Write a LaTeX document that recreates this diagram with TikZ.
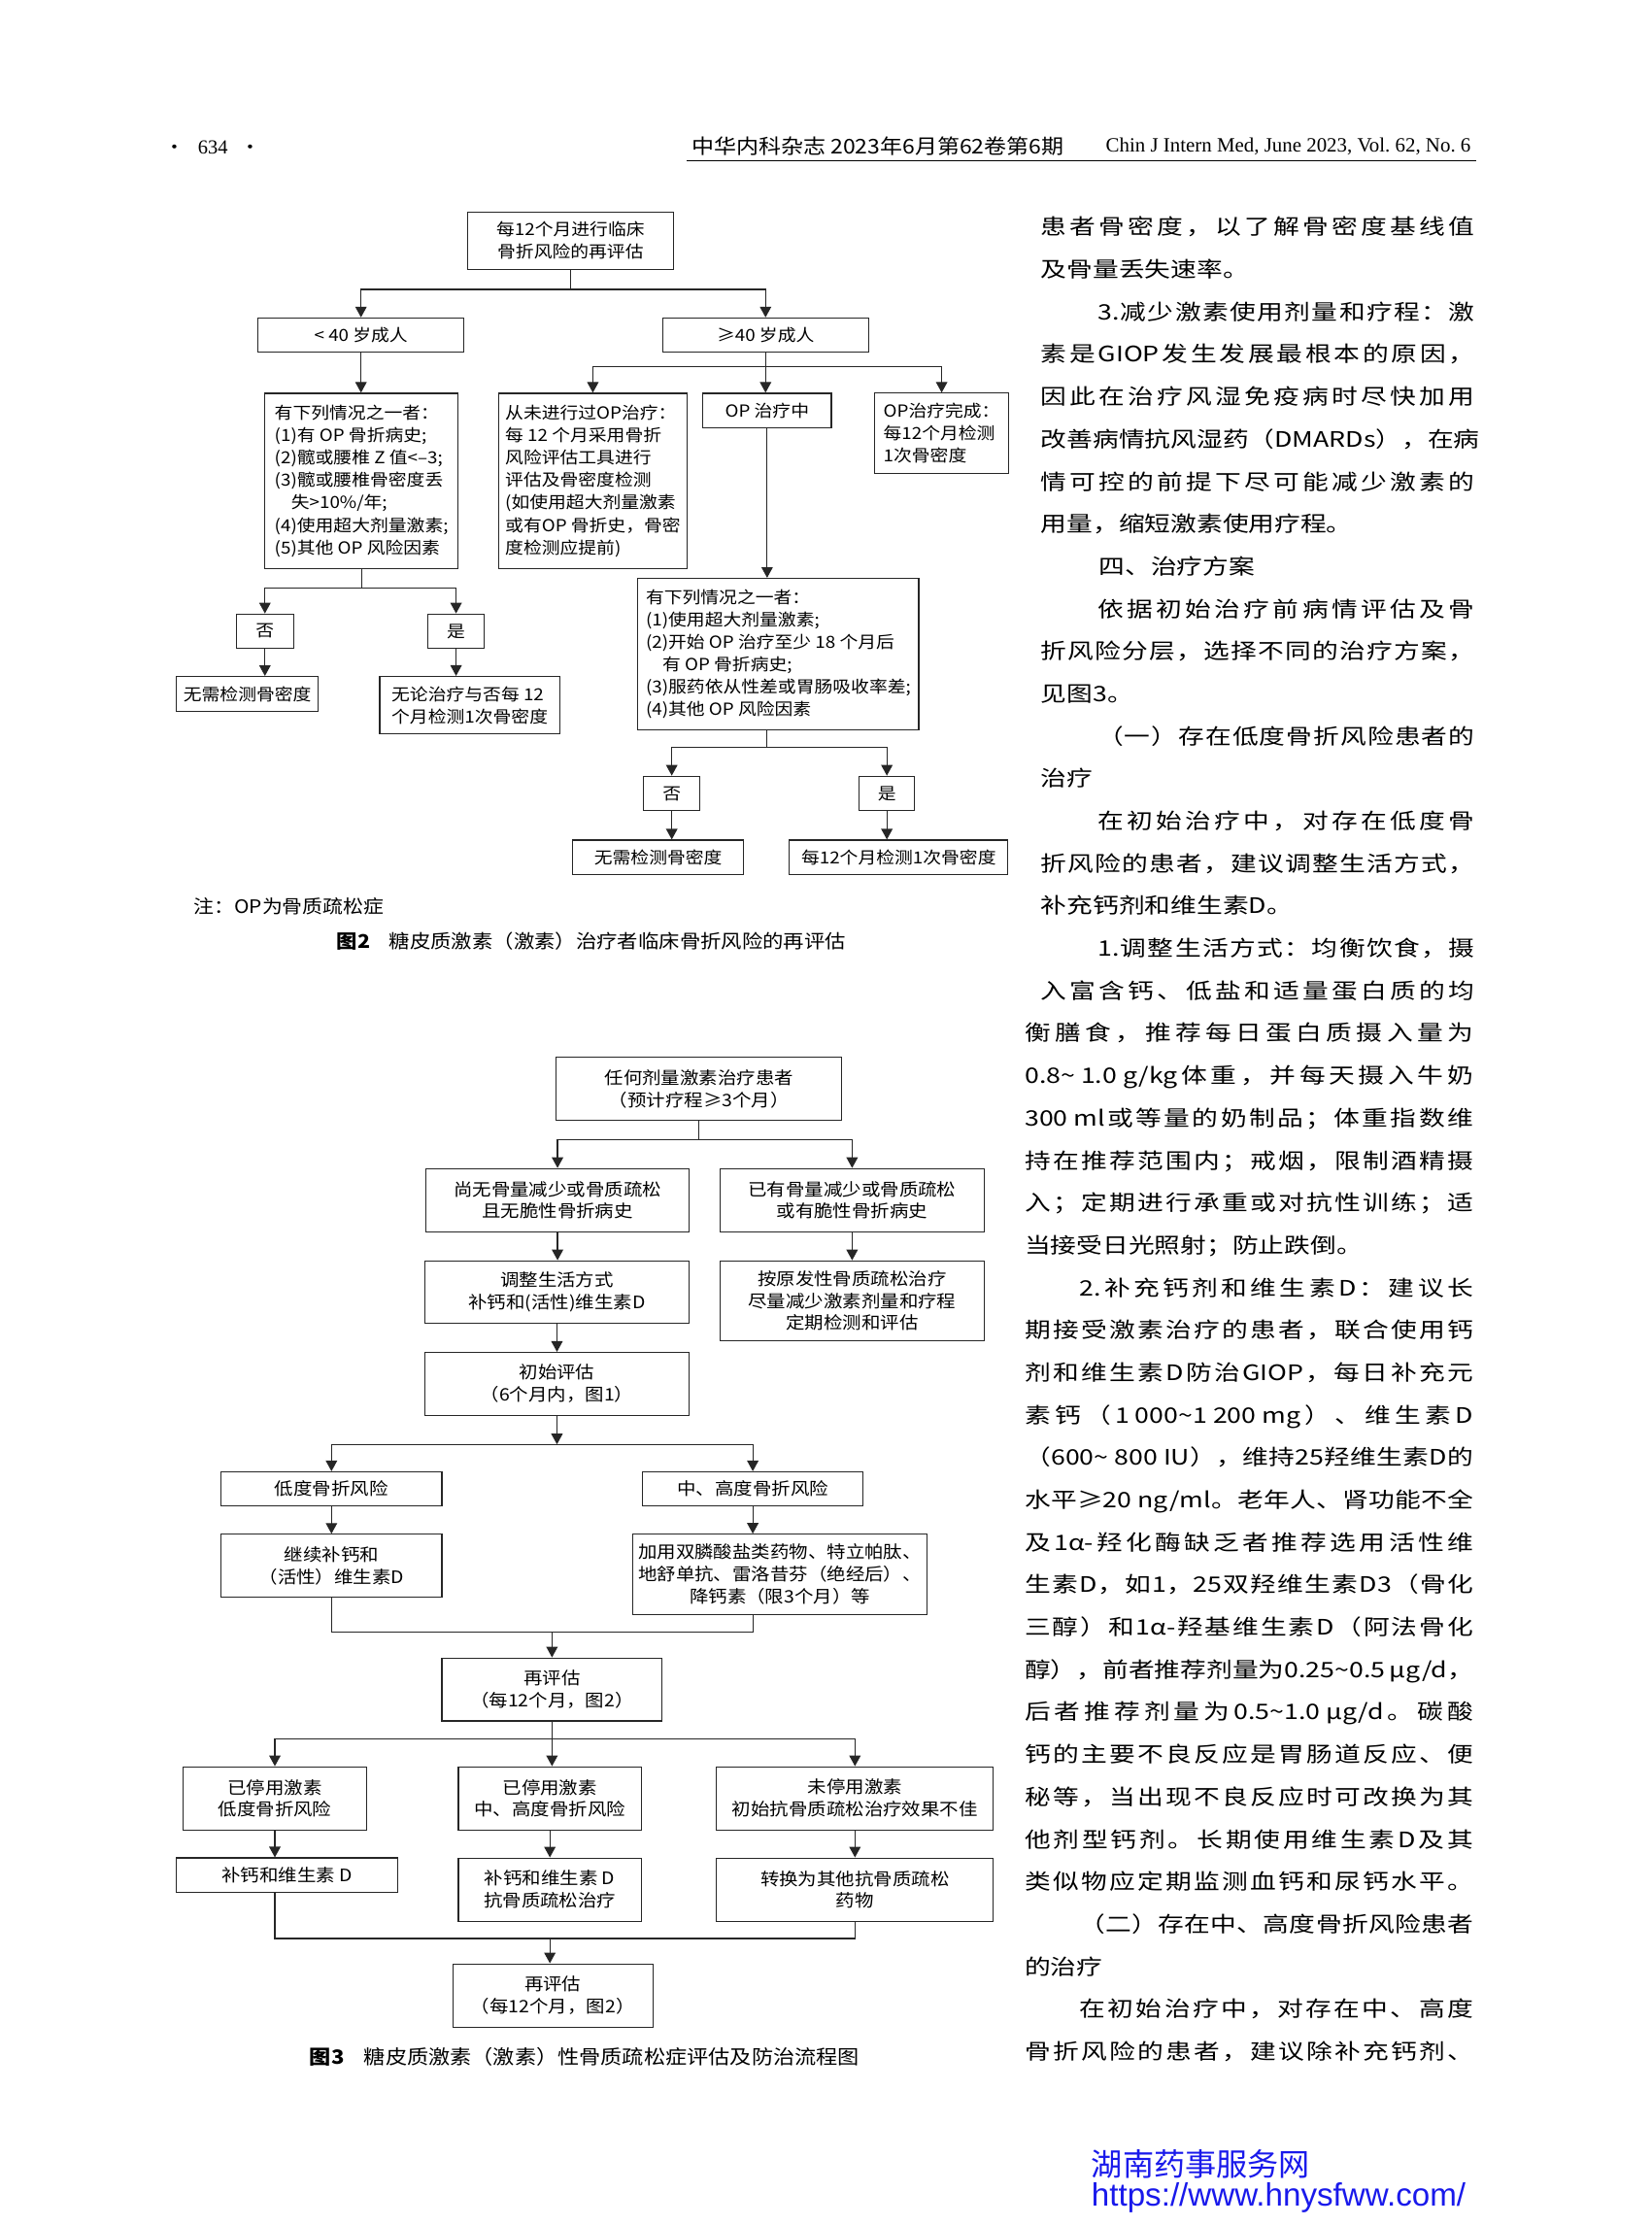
\documentclass[tikz,border=0pt]{standalone}
\usepackage{fontspec}
\setmainfont{Noto Sans CJK SC}[FakeStretch=1.1]
\newfontfamily\bodyfont{Noto Sans CJK SC}[FakeStretch=1.22]
\newfontfamily\wmfont{Noto Sans CJK SC}
\newfontfamily\headlat{Liberation Serif}
\newfontfamily\urlfont{Liberation Sans}
\usepackage{tikz}
\usetikzlibrary{arrows.meta,positioning,calc}

\definecolor{wmblue}{RGB}{25,25,235}

% spread the characters of one text line over a given width
\def\jfirst#1{#1\jrest}
\def\jrest#1{\ifx\relax#1\else\hfil#1\expandafter\jrest\fi}
\newcommand\jline[2]{\hbox to #1pt{\jfirst#2\relax}}
% body lines: number, left x, width, text
\newcommand\bodyj[4]{\node[bodytxt] (b#1) at (#2,{159.8+29.9*(#1-1)}) {\jline{#3}{#4}};}
\newcommand\bodys[3]{\node[bodytxt] (b#1) at (#2,{159.8+29.9*(#1-1)}) {#3};}

\begin{document}
\begin{tikzpicture}[x=1pt,y=-1pt,
  >={Triangle[length=7.5pt,width=8pt]},
  box2/.style={draw=black!85,line width=0.8pt,inner sep=0pt,align=center,
    font=\fontsize{11.7}{15.8}\selectfont},
  box3/.style={draw=black!85,line width=0.8pt,inner sep=0pt,align=center,
    font=\fontsize{12.1}{15.6}\selectfont},
  arr/.style={->,line width=0.8pt,draw=black!85},
  ln/.style={line width=0.8pt,draw=black!85},
  bodytxt/.style={anchor=west,inner sep=0pt,text height=11.5pt,text depth=0pt,
    font=\bodyfont\fontsize{15}{18}\selectfont}]
  \fill[white] (0,0) rectangle (1164,1568);
  \useasboundingbox (0,0) rectangle (1164,1568);

  % page head
  \node[font=\fontsize{13}{15}\selectfont] (pg) at (150,104) {·\hspace{9pt}{\headlat\fontsize{14}{15}\selectfont 634}\hspace{9pt}·};
  \node[anchor=west,font=\fontsize{14.3}{15}\selectfont] (hd1) at (484,103) {中华内科杂志 2023年6月第62卷第6期};
  \node[anchor=east,font=\headlat\fontsize{14.3}{15}\selectfont] (hd2) at (1040,103) {Chin J Intern Med, June 2023, Vol.\ 62, No.\ 6};
  \draw[line width=0.9pt] (484,113.5) -- (1040,113.5);

  % ---------- figure 2 ----------
  \node[box2,minimum width=145.2pt,minimum height=40.4pt] (f2top) at (402,169.6) {每12个月进行临床\\骨折风险的再评估};
  \node[box2,minimum width=145.2pt,minimum height=23.9pt] (lt40) at (254.4,236) {< 40 岁成人};
  \node[box2,minimum width=145pt,minimum height=23.9pt] (ge40) at (539.5,236) {≥40 岁成人};
  \node[box2,align=left,minimum width=136.4pt,minimum height=123.7pt] (c1) at (254.7,339) {有下列情况之一者：\\(1)有 OP 骨折病史;\\(2)髋或腰椎 Z 值<–3;\\(3)髋或腰椎骨密度丢\\\hspace*{1em}失>10\%/年;\\(4)使用超大剂量激素;\\(5)其他 OP 风险因素};
  \node[box2,align=left,minimum width=132.7pt,minimum height=123.7pt] (c2) at (417.8,339) {从未进行过OP治疗：\\每 12 个月采用骨折\\风险评估工具进行\\评估及骨密度检测\\(如使用超大剂量激素\\或有OP 骨折史，骨密\\度检测应提前)};
  \node[box2,minimum width=90.4pt,minimum height=24.5pt] (c3) at (540.6,289.4) {OP 治疗中};
  \node[box2,align=left,minimum width=94.3pt,minimum height=56.6pt] (c4) at (663.6,305.4) {OP治疗完成：\\每12个月检测\\1次骨密度};
  \node[box2,minimum width=40.1pt,minimum height=24.2pt] (n1) at (186.7,444.8) {否};
  \node[box2,minimum width=40pt,minimum height=24.2pt] (y1) at (321.4,444.8) {是};
  \node[box2,minimum width=100.2pt,minimum height=24.5pt] (r1) at (174.3,489) {无需检测骨密度};
  \node[box2,align=left,minimum width=126.8pt,minimum height=40.6pt] (r2) at (331,497) {无论治疗与否每 12\\个月检测1次骨密度};
  \node[box2,align=left,minimum width=197.9pt,minimum height=107pt] (c5) at (548.5,461.1) {有下列情况之一者：\\(1)使用超大剂量激素;\\(2)开始 OP 治疗至少 18 个月后\\\hspace*{1em}有 OP 骨折病史;\\(3)服药依从性差或胃肠吸收率差;\\(4)其他 OP 风险因素};
  \node[box2,minimum width=40pt,minimum height=24.4pt] (n2) at (473.4,559.2) {否};
  \node[box2,minimum width=39.3pt,minimum height=24.4pt] (y2) at (625,559.2) {是};
  \node[box2,minimum width=120.5pt,minimum height=24.4pt] (r3) at (463.8,604.2) {无需检测骨密度};
  \node[box2,minimum width=154pt,minimum height=24.4pt] (r4) at (633.3,604.2) {每12个月检测1次骨密度};
  \node[anchor=west,font=\fontsize{13}{15}\selectfont] (note2) at (133,638.7) {注：OP为骨质疏松症};
  \node[font=\fontsize{13.3}{15}\selectfont] (cap2) at (416.8,663.3) {\textbf{图2}\hspace{1em}糖皮质激素（激素）治疗者临床骨折风险的再评估};

  \draw[arr] (f2top.south) -- ++(0,13.7) -| (lt40.north);
  \draw[arr] (f2top.south) -- ++(0,13.7) -| (ge40.north);
  \draw[arr] (lt40.south) -- (lt40.south |- c1.north);
  \draw[arr] (ge40.south) -- ++(0,9.9) -| (c2.north);
  \draw[arr] (ge40.south) -- (ge40.south |- c3.north);
  \draw[arr] (ge40.south) -- ++(0,9.9) -| (c4.north);
  \draw[arr] (c1.south) -- ++(0,13.2) -| (n1.north);
  \draw[arr] (c1.south) -- ++(0,13.2) -| (y1.north);
  \draw[arr] (n1.south) -- (n1.south |- r1.north);
  \draw[arr] (y1.south) -- (y1.south |- r2.north);
  \draw[arr] (c3.south) -- (c3.south |- c5.north);
  \draw[arr] (c3.south |- c5.south) -- ++(0,11.9) -| (n2.north);
  \draw[arr] (c3.south |- c5.south) -- ++(0,11.9) -| (y2.north);
  \draw[arr] (n2.south) -- (n2.south |- r3.north);
  \draw[arr] (y2.south) -- (y2.south |- r4.north);

  % ---------- figure 3 ----------
  \node[box3,minimum width=201.2pt,minimum height=44.5pt] (g1) at (492.7,767.5) {任何剂量激素治疗患者\\（预计疗程≥3个月）};
  \node[box3,minimum width=185.9pt,minimum height=44.4pt] (g2) at (392.9,845.7) {尚无骨量减少或骨质疏松\\且无脆性骨折病史};
  \node[box3,minimum width=186.3pt,minimum height=44.4pt] (g3) at (600.5,845.7) {已有骨量减少或骨质疏松\\或有脆性骨折病史};
  \node[box3,minimum width=185.7pt,minimum height=43.8pt] (g4) at (392.5,910.4) {调整生活方式\\补钙和(活性)维生素D};
  \node[box3,minimum width=186.3pt,minimum height=56.3pt] (g5) at (600.5,916.7) {按原发性骨质疏松治疗\\尽量减少激素剂量和疗程\\定期检测和评估};
  \node[box3,minimum width=185.7pt,minimum height=44.3pt] (g6) at (392.5,975.2) {初始评估\\（6个月内，图1）};
  \node[box3,minimum width=155.5pt,minimum height=24.2pt] (g7) at (233.6,1049.3) {低度骨折风险};
  \node[box3,minimum width=155.5pt,minimum height=24.2pt] (g8) at (530.5,1049.3) {中、高度骨折风险};
  \node[box3,minimum width=155.5pt,minimum height=44.5pt] (g9) at (233.6,1103.5) {继续补钙和\\（活性）维生素D};
  \node[box3,minimum width=207.5pt,minimum height=56.6pt] (g10) at (549.6,1109.5) {加用双膦酸盐类药物、特立帕肽、\\地舒单抗、雷洛昔芬（绝经后）、\\降钙素（限3个月）等};
  \node[box3,minimum width=155.2pt,minimum height=44.4pt] (g11) at (389,1190.6) {再评估\\（每12个月，图2）};
  \node[box3,minimum width=129.4pt,minimum height=44.5pt] (g12) at (193.7,1267.3) {已停用激素\\低度骨折风险};
  \node[box3,minimum width=129pt,minimum height=44.5pt] (g13) at (387.5,1267.3) {已停用激素\\中、高度骨折风险};
  \node[box3,minimum width=195.1pt,minimum height=44.5pt] (g14) at (602.5,1267.3) {未停用激素\\初始抗骨质疏松治疗效果不佳};
  \node[box3,minimum width=156.3pt,minimum height=24.4pt] (g15) at (202.2,1321.5) {补钙和维生素 D};
  \node[box3,minimum width=129pt,minimum height=44.5pt] (g16) at (387.5,1331.6) {补钙和维生素 D\\抗骨质疏松治疗};
  \node[box3,minimum width=195.1pt,minimum height=44.5pt] (g17) at (602.5,1331.6) {转换为其他抗骨质疏松\\药物};
  \node[box3,minimum width=141pt,minimum height=44.5pt] (g18) at (389.6,1406.2) {再评估\\（每12个月，图2）};
  \node[font=\fontsize{13.8}{15}\selectfont] (cap3) at (412,1449.6) {\textbf{图3}\hspace{1em}糖皮质激素（激素）性骨质疏松症评估及防治流程图};

  \draw[arr] (g1.south) -- ++(0,13.2) -| (g2.north);
  \draw[arr] (g1.south) -- ++(0,13.2) -| (g3.north);
  \draw[arr] (g2.south) -- (g2.south |- g4.north);
  \draw[arr] (g3.south) -- (g3.south |- g5.north);
  \draw[arr] (g4.south) -- (g4.south |- g6.north);
  \draw[arr] (g6.south) -- ++(0,20.1) coordinate (g6j);
  \draw[arr] (g6j) -| (g7.north);
  \draw[arr] (g6j) -| (g8.north);
  \draw[arr] (g7.south) -- (g7.south |- g9.north);
  \draw[arr] (g8.south) -- (g8.south |- g10.north);
  \draw[ln] (g9.south) -- ++(0,23.9) coordinate (g9j) -| (g8.south |- g10.south);
  \draw[arr] (g9j -| g11.north) -- (g11.north);
  \draw[arr] (g11.south) -- ++(0,12.1) -| (g12.north);
  \draw[arr] (g11.south) -- (g11.south |- g13.north);
  \draw[arr] (g11.south) -- ++(0,12.1) -| (g14.north);
  \draw[arr] (g12.south) -- (g12.south |- g15.north);
  \draw[arr] (g13.south) -- (g13.south |- g16.north);
  \draw[arr] (g14.south) -- (g14.south |- g17.north);
  \draw[ln] (g12.south |- g15.south) -- ++(0,32) coordinate (g15j) -| (g17.south);
  \draw[arr] (g15j -| g16.south) -- (g16.south |- g18.north);

  % ---------- right column ----------
  \bodyj{1}{733.4}{305.6}{患者骨密度，以了解骨密度基线值}
  \bodys{2}{733.4}{及骨量丢失速率。}
  \bodyj{3}{773.3}{265.7}{{3.}减少激素使用剂量和疗程：激}
  \bodyj{4}{733.4}{305.6}{素是{GIOP}发生发展最根本的原因，}
  \bodyj{5}{733.4}{305.6}{因此在治疗风湿免疫病时尽快加用}
  \bodyj{6}{733.4}{305.6}{改善病情抗风湿药（{DMARDs}），在病}
  \bodyj{7}{733.4}{305.6}{情可控的前提下尽可能减少激素的}
  \bodys{8}{733.4}{用量，缩短激素使用疗程。}
  \bodys{9}{774.4}{四、治疗方案}
  \bodyj{10}{773.3}{265.7}{依据初始治疗前病情评估及骨}
  \bodyj{11}{733.4}{305.6}{折风险分层，选择不同的治疗方案，}
  \bodys{12}{733.4}{见图3。}
  \bodyj{13}{773.3}{265.7}{（一）存在低度骨折风险患者的}
  \bodys{14}{733.4}{治疗}
  \bodyj{15}{773.3}{265.7}{在初始治疗中，对存在低度骨}
  \bodyj{16}{733.4}{305.6}{折风险的患者，建议调整生活方式，}
  \bodys{17}{733.4}{补充钙剂和维生素D。}
  \bodyj{18}{773.3}{265.7}{{1.}调整生活方式：均衡饮食，摄}
  \bodyj{19}{733.4}{305.6}{入富含钙、低盐和适量蛋白质的均}
  \bodyj{20}{722}{316}{衡膳食，推荐每日蛋白质摄入量为}
  \bodyj{21}{722}{316}{{0.8\textasciitilde{} 1.0 g/kg}体重，并每天摄入牛奶}
  \bodyj{22}{722}{316}{{300 ml}或等量的奶制品；体重指数维}
  \bodyj{23}{722}{316}{持在推荐范围内；戒烟，限制酒精摄}
  \bodyj{24}{722}{316}{入；定期进行承重或对抗性训练；适}
  \bodys{25}{722}{当接受日光照射；防止跌倒。}
  \bodyj{26}{760.7}{277.3}{{2.}补充钙剂和维生素D：建议长}
  \bodyj{27}{722}{316}{期接受激素治疗的患者，联合使用钙}
  \bodyj{28}{722}{316}{剂和维生素D防治{GIOP}，每日补充元}
  \bodyj{29}{722}{316}{素钙（{1 000\textasciitilde 1 200 mg}）、维生素D}
  \bodyj{30}{722}{316}{（{600\textasciitilde{} 800 IU}），维持{25}羟维生素D的}
  \bodyj{31}{722}{316}{水平{≥20 ng/ml}。老年人、肾功能不全}
  \bodyj{32}{722}{316}{及{1α-}羟化酶缺乏者推荐选用活性维}
  \bodyj{33}{722}{316}{生素D，如{1，25}双羟维生素{D3}（骨化}
  \bodyj{34}{722}{316}{三醇）和{1α-}羟基维生素D（阿法骨化}
  \bodyj{35}{722}{316}{醇），前者推荐剂量为{0.25\textasciitilde 0.5 μg/d}，}
  \bodyj{36}{722}{316}{后者推荐剂量为{0.5\textasciitilde 1.0 μg/d}。碳酸}
  \bodyj{37}{722}{316}{钙的主要不良反应是胃肠道反应、便}
  \bodyj{38}{722}{316}{秘等，当出现不良反应时可改换为其}
  \bodyj{39}{722}{316}{他剂型钙剂。长期使用维生素D及其}
  \bodyj{40}{722}{316}{类似物应定期监测血钙和尿钙水平。}
  \bodyj{41}{760.7}{277.3}{（二）存在中、高度骨折风险患者}
  \bodys{42}{722}{的治疗}
  \bodyj{43}{760.7}{277.3}{在初始治疗中，对存在中、高度}
  \bodyj{44}{722}{316}{骨折风险的患者，建议除补充钙剂、}

  % watermark
  \node[anchor=west,inner sep=0pt,text=wmblue,font=\wmfont\fontsize{22}{24}\selectfont] (wm1) at (769,1525) {湖南药事服务网};
  \node[anchor=west,inner sep=0pt,text=wmblue,font=\urlfont\fontsize{22.7}{24}\selectfont] (wm2) at (769,1549) {https://www.hnysfww.com/};
\end{tikzpicture}
\end{document}
